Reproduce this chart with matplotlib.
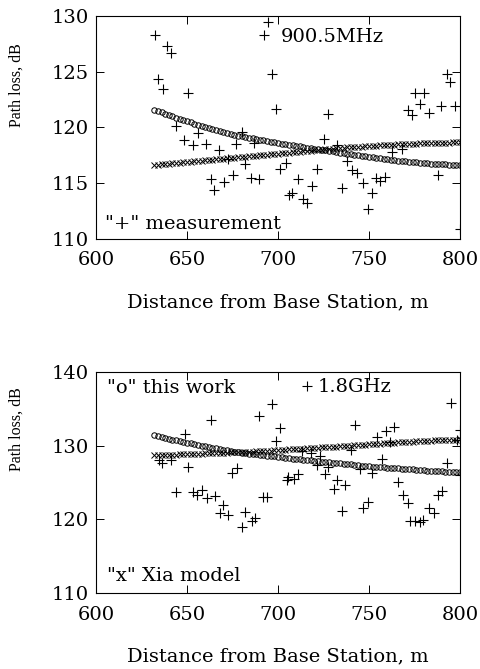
"""Path loss vs distance: measurement (+), this work (o) and Xia model (x),
for 900.5 MHz (top) and 1.8 GHz (bottom)."""

import numpy as np
import matplotlib.pyplot as plt

# ---- measurement, 900.5 MHz ----
d_meas_900 = [632.4, 634.2, 636.6, 639.2, 641.2, 644.0, 648.4, 650.7, 653.5, 655.9,
              660.4, 663.0, 665.0, 667.8, 670.3, 672.7, 675.1, 676.9, 680.0, 681.9,
              685.0, 686.8, 689.7, 694.3, 696.5, 698.9, 701.1, 704.2, 706.0, 707.5,
              711.2, 713.9, 715.8, 718.5, 721.2, 725.4, 727.3, 732.2, 735.3, 737.7,
              740.8, 743.2, 746.9, 749.3, 751.8, 753.8, 756.0, 758.8, 762.5, 768.3,
              771.3, 773.5, 775.3, 778.0, 780.4, 783.0, 787.7, 789.6, 792.7, 794.5,
              797.3, 800.0]
pl_meas_900 = [128.3, 124.35, 123.45, 127.3, 126.7, 120.1, 118.9, 123.1, 118.4, 119.5,
               118.5, 115.35, 114.4, 118.0, 115.1, 117.2, 115.7, 118.5, 119.6, 116.7,
               115.5, 118.6, 115.4, 129.5, 124.8, 121.7, 116.3, 116.8, 113.9, 114.15,
               115.35, 113.55, 113.2, 114.75, 116.25, 119.0, 121.2, 118.4, 114.55, 117.0,
               116.2, 115.9, 115.05, 112.65, 114.1, 115.45, 115.2, 115.6, 117.8, 118.05,
               121.6, 121.1, 123.1, 122.1, 123.1, 121.3, 115.7, 121.9, 124.8, 124.1,
               121.9, 110.9]

# ---- measurement, 1.8 GHz ----
d_meas_1800 = [634.5, 636.0, 641.2, 644.0, 648.9, 650.7, 653.1, 655.3, 658.1, 660.8,
               663.0, 665.4, 668.1, 670.0, 672.3, 674.5, 677.3, 680.0, 681.9, 685.5,
               687.4, 689.7, 691.9, 693.8, 696.5, 698.9, 701.1, 704.8, 705.7, 709.0,
               711.2, 713.0, 718.1, 721.3, 723.1, 725.8, 727.6, 730.9, 732.2, 735.0,
               736.8, 740.1, 742.3, 745.1, 746.9, 749.6, 751.8, 754.2, 757.0, 759.2,
               761.5, 763.9, 766.1, 768.8, 771.3, 772.5, 775.3, 778.0, 779.8, 783.0,
               785.9, 787.7, 789.9, 792.7, 795.1, 798.2, 800.0, 800.0]
pl_meas_1800 = [128.0, 127.6, 128.05, 123.75, 131.6, 127.1, 123.75, 123.3, 124.0, 122.85,
                133.5, 123.2, 120.8, 121.95, 120.6, 126.25, 127.0, 119.0, 121.0, 119.8,
                120.2, 134.0, 123.1, 123.1, 135.65, 130.7, 132.35, 125.35, 125.8, 125.5,
                126.1, 129.3, 129.0, 127.4, 128.6, 126.1, 127.15, 124.1, 125.35, 121.1,
                124.65, 129.4, 132.8, 126.9, 121.5, 122.4, 126.25, 131.2, 128.2, 132.0,
                130.55, 132.6, 125.1, 123.3, 122.2, 119.8, 119.8, 119.7, 119.9, 121.6,
                120.8, 123.3, 123.85, 127.7, 135.75, 130.8, 132.1, 126.0]

# ---- model curves, sampled every 2 m from 632 m to 800 m ----
d_model = np.arange(632, 801, 2)

pl_this_900 = [121.60, 121.47, 121.35, 121.22, 121.10, 120.99, 120.88, 120.77, 120.66, 120.55,
               120.45, 120.35, 120.25, 120.15, 120.05, 119.96, 119.87, 119.78, 119.69, 119.60,
               119.52, 119.44, 119.36, 119.28, 119.20, 119.14, 119.08, 119.02, 118.96, 118.90,
               118.84, 118.78, 118.72, 118.66, 118.60, 118.55, 118.50, 118.45, 118.40, 118.35,
               118.30, 118.25, 118.20, 118.15, 118.10, 118.05, 118.00, 117.95, 117.90, 117.85,
               117.80, 117.75, 117.70, 117.65, 117.60, 117.55, 117.50, 117.45, 117.40, 117.35,
               117.31, 117.27, 117.23, 117.19, 117.15, 117.11, 117.07, 117.03, 116.99, 116.95,
               116.92, 116.89, 116.86, 116.83, 116.80, 116.78, 116.76, 116.74, 116.72, 116.70,
               116.68, 116.66, 116.64, 116.62, 116.60]
pl_xia_900 = [116.60, 116.64, 116.68, 116.71, 116.75, 116.78, 116.81, 116.84, 116.87, 116.90,
              116.93, 116.96, 116.99, 117.02, 117.05, 117.08, 117.11, 117.14, 117.17, 117.20,
              117.23, 117.26, 117.29, 117.32, 117.35, 117.38, 117.41, 117.44, 117.47, 117.50,
              117.53, 117.56, 117.59, 117.62, 117.65, 117.68, 117.71, 117.74, 117.77, 117.80,
              117.83, 117.86, 117.89, 117.92, 117.95, 117.98, 118.01, 118.04, 118.07, 118.10,
              118.13, 118.16, 118.19, 118.21, 118.23, 118.25, 118.27, 118.29, 118.31, 118.33,
              118.35, 118.37, 118.39, 118.41, 118.43, 118.45, 118.47, 118.48, 118.50, 118.51,
              118.53, 118.54, 118.56, 118.57, 118.58, 118.59, 118.60, 118.61, 118.62, 118.63,
              118.64, 118.65, 118.66, 118.67, 118.68]
pl_this_1800 = [131.40, 131.29, 131.18, 131.06, 130.95, 130.84, 130.73, 130.62, 130.51, 130.40,
                130.30, 130.20, 130.10, 130.00, 129.90, 129.81, 129.72, 129.63, 129.54, 129.45,
                129.37, 129.29, 129.21, 129.13, 129.05, 128.99, 128.93, 128.87, 128.81, 128.75,
                128.70, 128.65, 128.60, 128.55, 128.50, 128.44, 128.38, 128.32, 128.26, 128.20,
                128.15, 128.10, 128.05, 128.00, 127.95, 127.90, 127.85, 127.80, 127.75, 127.70,
                127.65, 127.60, 127.55, 127.50, 127.45, 127.40, 127.35, 127.30, 127.25, 127.20,
                127.16, 127.12, 127.08, 127.04, 127.00, 126.97, 126.94, 126.91, 126.88, 126.85,
                126.81, 126.77, 126.73, 126.69, 126.65, 126.62, 126.59, 126.56, 126.53, 126.50,
                126.48, 126.46, 126.44, 126.42, 126.40]
pl_xia_1800 = [128.70, 128.71, 128.72, 128.74, 128.75, 128.77, 128.79, 128.81, 128.83, 128.85,
               128.87, 128.89, 128.91, 128.93, 128.95, 128.97, 128.99, 129.01, 129.03, 129.05,
               129.07, 129.09, 129.11, 129.13, 129.15, 129.17, 129.19, 129.21, 129.23, 129.25,
               129.28, 129.31, 129.34, 129.37, 129.40, 129.43, 129.46, 129.49, 129.52, 129.55,
               129.58, 129.61, 129.64, 129.67, 129.70, 129.73, 129.76, 129.79, 129.82, 129.85,
               129.88, 129.91, 129.94, 129.97, 130.00, 130.04, 130.08, 130.12, 130.16, 130.20,
               130.23, 130.26, 130.29, 130.32, 130.35, 130.38, 130.41, 130.44, 130.47, 130.50,
               130.53, 130.56, 130.59, 130.62, 130.65, 130.67, 130.69, 130.71, 130.73, 130.75,
               130.77, 130.79, 130.81, 130.83, 130.85]

x_ticks = [600, 650, 700, 750, 800]

plt.rcParams["font.family"] = "DejaVu Serif"
FS = 14

fig = plt.figure(figsize=(4.8, 6.69), dpi=100)
ax_top = fig.add_axes([0.2, 0.6428, 0.7583, 0.3333])
ax_bot = fig.add_axes([0.2, 0.1136, 0.7583, 0.3303])


def draw_panel(ax, d_meas, pl_meas, pl_this, pl_xia, yticks, ylabel_y):
    meas, = ax.plot(d_meas, pl_meas, ls="none", marker="+", ms=6.5, mew=0.8, color="black")
    ax.plot(d_model, pl_this, ls="none", marker="o", ms=3.9, mew=0.7,
            mfc="none", mec="black")
    ax.plot(d_model, pl_xia, ls="none", marker="x", ms=4.0, mew=0.7, color="black")

    ax.set_xlim(600, 800)
    ax.set_ylim(yticks[0], yticks[-1])
    ax.set_xticks(x_ticks)
    ax.set_yticks(yticks)
    ax.tick_params(direction="in", top=True, right=True, length=6, width=0.7,
                   labelsize=FS)
    ax.tick_params(axis="x", pad=9)
    ax.tick_params(axis="y", pad=5)
    for s in ax.spines.values():
        s.set_linewidth(0.8)

    ax.set_xlabel("Distance from Base Station, m", fontsize=FS, labelpad=17)
    ax.set_ylabel("Path loss, dB", fontsize=11.5, family="Liberation Serif")
    ax.yaxis.set_label_coords(-0.195, ylabel_y)
    return meas


m_top = draw_panel(ax_top, d_meas_900, pl_meas_900, pl_this_900, pl_xia_900,
                   [110, 115, 120, 125, 130], 0.69)
m_bot = draw_panel(ax_bot, d_meas_1800, pl_meas_1800, pl_this_1800, pl_xia_1800,
                   [110, 120, 130, 140], 0.74)

ax_top.legend([m_top], ["900.5MHz"], loc="center left", bbox_to_anchor=(0.44, 0.905),
              frameon=False, fontsize=FS, handlelength=0.8, handletextpad=0.45,
              borderpad=0, borderaxespad=0)
ax_top.text(0.025, 0.043, '"+" measurement', transform=ax_top.transAxes,
            fontsize=FS, va="baseline")

ax_bot.legend([m_bot], ["1.8GHz"], loc="center left", bbox_to_anchor=(0.557, 0.93),
              frameon=False, fontsize=FS, handlelength=0.8, handletextpad=0.15,
              borderpad=0, borderaxespad=0)
ax_bot.text(0.03, 0.904, '"o" this work', transform=ax_bot.transAxes,
            fontsize=FS, va="baseline")
ax_bot.text(0.03, 0.056, '"x" Xia model', transform=ax_bot.transAxes,
            fontsize=FS, va="baseline")

fig.savefig("out.png", dpi=100)
